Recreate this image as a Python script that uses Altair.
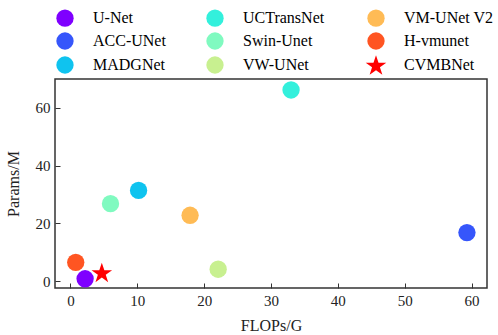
import altair as alt
import pandas as pd

# Model complexity: FLOPs (G) vs parameter count (M)
models = ["U-Net", "ACC-UNet", "MADGNet", "UCTransNet", "Swin-Unet",
          "VW-UNet", "VM-UNet V2", "H-vmunet", "CVMBNet"]
flops = [2.2, 59.3, 10.2, 33.0, 6.0, 22.1, 17.9, 0.8, 4.7]
params = [0.8, 16.8, 31.4, 66.2, 26.8, 4.1, 22.8, 6.5, 3.0]
colors = ["#7f00ff", "#3656fb", "#0fc3ef", "#33f0dc", "#80fac0",
          "#c8f090", "#ffbb55", "#ff5522", "#ff0000"]

x_ticks = [0, 10, 20, 30, 40, 50, 60]
y_ticks = [0, 20, 40, 60]

# five-pointed star (outer radius 1.25), centred vertically on its bounding box
STAR = ("M0,-1.13L0.292,-0.262L1.189,-0.262L0.454,0.272L0.735,1.13"
        "L0,0.598L-0.735,1.13L-0.454,0.272L-1.189,-0.262L-0.292,-0.262Z")
shapes = ["circle"] * 8 + [STAR]

df = pd.DataFrame({"model": models, "flops": flops, "params": params,
                   "idx": list(range(len(models)))})

FONT = "Liberation Serif"

# legend entries fill down each column of three
legend = alt.Legend(
    orient="none", legendX=1, legendY=-70, columns=3,
    columnPadding=40, rowPadding=5, symbolSize=300, symbolStrokeWidth=0,
    symbolOpacity=1, labelFont=FONT, labelFontSize=16, labelColor="black",
    labelOffset=19,
)

def axis(values, title, pad):
    return alt.Axis(
        values=values, title=title, offset=-5, tickSize=5, domain=False,
        grid=False, tickColor="#333", tickWidth=1, labelFont=FONT,
        labelFontSize=15, labelColor="#222", labelPadding=5, titleFont=FONT,
        titleFontSize=16, titleFontWeight="normal", titleColor="#222",
        titlePadding=pad,
    )

chart = alt.Chart(df).mark_point(filled=True, size=300, opacity=1, strokeWidth=0).encode(
    x=alt.X("flops:Q", scale=alt.Scale(domain=[-2.3, 62.3], nice=False, zero=False),
            axis=axis(x_ticks, "FLOPs/G", 9)),
    y=alt.Y("params:Q", scale=alt.Scale(domain=[-2.4, 70], nice=False, zero=False),
            axis=axis(y_ticks, "Params/M", 14)),
    color=alt.Color("model:N", scale=alt.Scale(domain=models, range=colors),
                    legend=legend, title=None),
    shape=alt.Shape("model:N", scale=alt.Scale(domain=models, range=shapes),
                    legend=legend, title=None),
    order=alt.Order("idx:Q"),
).properties(
    width=432, height=209,
    autosize=alt.AutoSizeParams(type="none"),
    padding={"left": 55, "top": 79, "right": 11, "bottom": 47},
    background="white",
).configure_view(stroke="#333", strokeWidth=1.5)

chart.save("out.html", embed_options={"renderer": "svg", "actions": False})
